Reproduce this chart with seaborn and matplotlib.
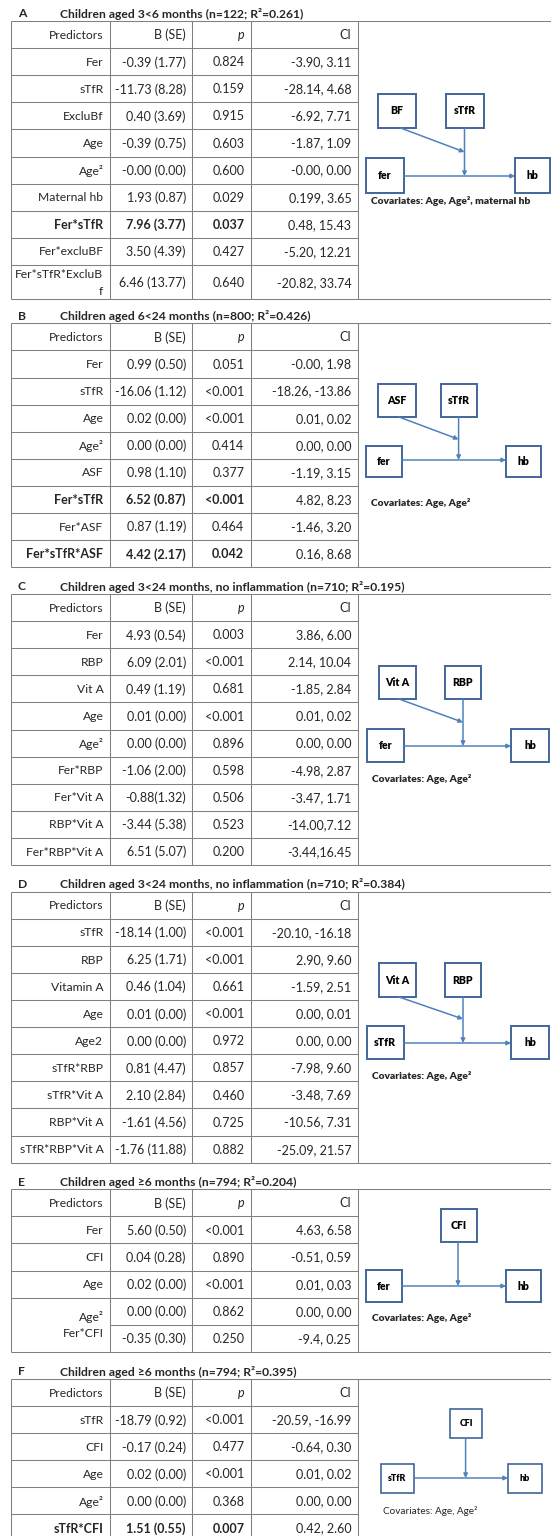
import matplotlib
matplotlib.use("Agg")
import matplotlib.pyplot as plt
import seaborn as sns

# ---------------------------------------------------------------- data
A_letter = "A"
A_title = "Children aged 3<6 months (n=122; R²=0.261)"
A_pred = ["Fer", "sTfR", "ExcluBf", "Age", "Age²", "Maternal hb", "Fer*sTfR",
          "Fer*excluBF", "Fer*sTfR*ExcluB\nf"]
A_b = ["-0.39 (1.77)", "-11.73 (8.28)", "0.40 (3.69)", "-0.39 (0.75)", "-0.00 (0.00)",
       "1.93 (0.87)", "7.96 (3.77)", "3.50 (4.39)", "6.46 (13.77)"]
A_p = ["0.824", "0.159", "0.915", "0.603", "0.600", "0.029", "0.037", "0.427", "0.640"]
A_ci = ["-3.90, 3.11", "-28.14, 4.68", "-6.92, 7.71", "-1.87, 1.09", "-0.00, 0.00",
        "0.199, 3.65", "0.48, 15.43", "-5.20, 12.21", "-20.82, 33.74"]
A_bold = [6]

B_letter = "B"
B_title = "Children aged 6<24 months (n=800; R²=0.426)"
B_pred = ["Fer", "sTfR", "Age", "Age²", "ASF", "Fer*sTfR", "Fer*ASF", "Fer*sTfR*ASF"]
B_b = ["0.99 (0.50)", "-16.06 (1.12)", "0.02 (0.00)", "0.00 (0.00)", "0.98 (1.10)",
       "6.52 (0.87)", "0.87 (1.19)", "4.42 (2.17)"]
B_p = ["0.051", "<0.001", "<0.001", "0.414", "0.377", "<0.001", "0.464", "0.042"]
B_ci = ["-0.00, 1.98", "-18.26, -13.86", "0.01, 0.02", "0.00, 0.00", "-1.19, 3.15",
        "4.82, 8.23", "-1.46, 3.20", "0.16, 8.68"]
B_bold = [5, 7]

C_letter = "C"
C_title = "Children aged 3<24 months, no inflammation (n=710; R²=0.195)"
C_pred = ["Fer", "RBP", "Vit A", "Age", "Age²", "Fer*RBP", "Fer*Vit A", "RBP*Vit A",
          "Fer*RBP*Vit A"]
C_b = ["4.93 (0.54)", "6.09 (2.01)", "0.49 (1.19)", "0.01 (0.00)", "0.00 (0.00)",
       "-1.06 (2.00)", "-0.88(1.32)", "-3.44 (5.38)", "6.51 (5.07)"]
C_p = ["0.003", "<0.001", "0.681", "<0.001", "0.896", "0.598", "0.506", "0.523", "0.200"]
C_ci = ["3.86, 6.00", "2.14, 10.04", "-1.85, 2.84", "0.01, 0.02", "0.00, 0.00",
        "-4.98, 2.87", "-3.47, 1.71", "-14.00,7.12", "-3.44,16.45"]
C_bold = []

D_letter = "D"
D_title = "Children aged 3<24 months, no inflammation (n=710; R²=0.384)"
D_pred = ["sTfR", "RBP", "Vitamin A", "Age", "Age2", "sTfR*RBP", "sTfR*Vit A",
          "RBP*Vit A", "sTfR*RBP*Vit A"]
D_b = ["-18.14 (1.00)", "6.25 (1.71)", "0.46 (1.04)", "0.01 (0.00)", "0.00 (0.00)",
       "0.81 (4.47)", "2.10 (2.84)", "-1.61 (4.56)", "-1.76 (11.88)"]
D_p = ["<0.001", "<0.001", "0.661", "<0.001", "0.972", "0.857", "0.460", "0.725", "0.882"]
D_ci = ["-20.10, -16.18", "2.90, 9.60", "-1.59, 2.51", "0.00, 0.01", "0.00, 0.00",
        "-7.98, 9.60", "-3.48, 7.69", "-10.56, 7.31", "-25.09, 21.57"]
D_bold = []

E_letter = "E"
E_title = "Children aged ≥6 months (n=794; R²=0.204)"
E_pred = ["Fer", "CFI", "Age", "Age²", "Fer*CFI"]
E_b = ["5.60 (0.50)", "0.04 (0.28)", "0.02 (0.00)", "0.00 (0.00)", "-0.35 (0.30)"]
E_p = ["<0.001", "0.890", "<0.001", "0.862", "0.250"]
E_ci = ["4.63, 6.58", "-0.51, 0.59", "0.01, 0.03", "0.00, 0.00", "-9.4, 0.25"]
E_bold = []

F_letter = "F"
F_title = "Children aged ≥6 months (n=794; R²=0.395)"
F_pred = ["sTfR", "CFI", "Age", "Age²", "sTfR*CFI"]
F_b = ["-18.79 (0.92)", "-0.17 (0.24)", "0.02 (0.00)", "0.00 (0.00)", "1.51 (0.55)"]
F_p = ["<0.001", "0.477", "<0.001", "0.368", "0.007"]
F_ci = ["-20.59, -16.99", "-0.64, 0.30", "0.01, 0.02", "0.00, 0.00", "0.42, 2.60"]
F_bold = [4]

header = ["Predictors", "B (SE)", "p", "CI"]

# ---------------------------------------------------------------- style
sns.set_theme(style="white")
plt.rcParams["font.family"] = ["Lato", "DejaVu Sans"]

W, H = 551, 1536
fig = plt.figure(figsize=(W / 100, H / 100), dpi=100)
ax = fig.add_axes([0, 0, 1, 1])
ax.set_xlim(0, W)
ax.set_ylim(H, 0)
ax.axis("off")

GRID = "#808080"
BOX = "#41669a"
ARROW = "#4f81bd"
FS = 9.0          # numeric cells
FS_LABEL = 8.75   # predictor names (regular weight)
TFS = 8.7
col_x = [10.5, 109.6, 192.2, 250.5, 357.7]
PAD = 6.2
RH = 27.1
LW = 0.75


def hline(y, x0, x1):
    ax.plot([x0, x1], [y, y], color=GRID, lw=LW, solid_capstyle="butt")


def vline(x, y0, y1):
    ax.plot([x, x], [y0, y1], color=GRID, lw=LW, solid_capstyle="butt")


def table(top, letter, title, pred, b, p, ci, bold, last_h=RH, merged_tail=False):
    ax.text(17.6, top - 7.3, letter, fontsize=TFS, fontweight="bold",
            ha="left", va="center")
    ax.text(59.7, top - 7.3, title, fontsize=TFS, fontweight="bold",
            ha="left", va="center")
    n = len(pred) + 1
    heights = [RH] * (n - 1) + [last_h]
    ys = [top]
    for h in heights:
        ys.append(ys[-1] + h)
    bottom = ys[-1]
    hline(top, col_x[0], W)
    hline(bottom, col_x[0], W)
    for i, y in enumerate(ys[1:-1], start=1):
        x0 = col_x[1] if (merged_tail and i == n - 1) else col_x[0]
        hline(y, x0, col_x[-1])
    for x in col_x:
        vline(x, top, bottom)
    rows = [header] + [[pred[i], b[i], p[i], ci[i]] for i in range(len(pred))]
    for r, cells in enumerate(rows):
        yc = (ys[r] + ys[r + 1]) / 2 + 0.6
        for c, txt in enumerate(cells):
            is_bold = (r - 1) in bold and c < 3
            weight = "bold" if is_bold else "normal"
            style = "italic" if (r == 0 and c == 2) else "normal"
            fs = FS_LABEL if (c == 0 and not is_bold) else FS
            xr = col_x[c + 1] - PAD
            if c == 0 and merged_tail and r >= n - 2:
                continue
            if "\n" in txt:
                first, second = txt.split("\n")
                ax.text(xr, yc - 8.0, first, fontsize=fs, ha="right", va="center",
                        fontweight=weight)
                ax.text(xr, yc + 8.6, second, fontsize=fs, ha="right", va="center",
                        fontweight=weight)
            else:
                ax.text(xr, yc, txt, fontsize=fs, ha="right", va="center",
                        fontweight=weight, fontstyle=style)
    if merged_tail:
        ym = (ys[n - 2] + ys[n]) / 2
        ax.text(col_x[1] - PAD, ym - 7.6, pred[-2], fontsize=FS_LABEL,
                ha="right", va="center")
        ax.text(col_x[1] - PAD, ym + 8.4, pred[-1], fontsize=FS_LABEL,
                ha="right", va="center")


def box(x0, x1, y0, y1, label, fs=7.6, lw=1.4):
    ax.add_patch(plt.Rectangle((x0, y0), x1 - x0, y1 - y0, fill=False,
                               edgecolor=BOX, lw=lw))
    ax.text((x0 + x1) / 2, (y0 + y1) / 2, label, fontsize=fs, fontweight="heavy",
            ha="center", va="center", color="black")


def arrow(x0, y0, x1, y1, lw=1.1):
    ax.annotate("", xy=(x1, y1), xytext=(x0, y0),
                arrowprops=dict(arrowstyle="-|>", color=ARROW, lw=lw,
                                mutation_scale=6, shrinkA=0, shrinkB=0))


def diagram(mod1, mod2, pred_box, hb_box, horiz_y, vert_x, diag, cov_xy, cov_txt,
            fs=7.6, cov_fs=7.4, cov_weight="heavy", lw=1.4):
    if mod1 is not None:
        box(*mod1, fs=fs, lw=lw)
    box(*mod2, fs=fs, lw=lw)
    box(*pred_box, fs=fs, lw=lw)
    box(*hb_box, fs=fs, lw=lw)
    arrow(pred_box[1], horiz_y, hb_box[0], horiz_y)
    arrow(vert_x, mod2[3], vert_x, horiz_y)
    if diag is not None:
        arrow(diag[0], diag[1], vert_x, diag[2])
    ax.text(cov_xy[0], cov_xy[1], cov_txt, fontsize=cov_fs, fontweight=cov_weight,
            ha="left", va="center")


# ---------------------------------------------------------------- panels
table(21.0, A_letter, A_title, A_pred, A_b, A_p, A_ci, A_bold, last_h=34.5)
diagram((377.8, 416.4, 94, 128, "BF"), (445.6, 483.9, 94, 128, "sTfR"),
        (366.0, 404.0, 158, 193, "fer"), (515.0, 550.0, 158, 193, "hb"),
        176, 464.5, (400.6, 128, 152), (370.7, 200.5),
        "Covariates: Age, Age², maternal hb")

table(323.3, B_letter, B_title, B_pred, B_b, B_p, B_ci, B_bold)
diagram((378.0, 416.0, 384, 417, "ASF"), (441.0, 477.0, 384, 417, "sTfR"),
        (366.0, 402.0, 446, 477, "fer"), (506.0, 541.0, 446, 477, "hb"),
        460, 458.6, (399.0, 417, 439.3), (371.0, 503.0),
        "Covariates: Age, Age²")

table(594.0, C_letter, C_title, C_pred, C_b, C_p, C_ci, C_bold)
diagram((379.0, 416.0, 666, 699, "Vit A"), (444.5, 481.0, 666, 699, "RBP"),
        (366.5, 404.0, 729, 762, "fer"), (511.0, 549.0, 729, 762, "hb"),
        746, 463.0, (399.0, 699, 722.3), (372.0, 779.0),
        "Covariates: Age, Age²")

table(891.7, D_letter, D_title, D_pred, D_b, D_p, D_ci, D_bold)
diagram((379.0, 416.0, 963, 997, "Vit A"), (444.5, 481.0, 963, 997, "RBP"),
        (366.5, 404.0, 1026, 1059, "sTfR"), (511.0, 549.0, 1026, 1059, "hb"),
        1043, 463.0, (399.0, 997, 1019), (372.0, 1076.0),
        "Covariates: Age, Age²")

table(1189.3, E_letter, E_title, E_pred, E_b, E_p, E_ci, E_bold, merged_tail=True)
diagram(None, (441.0, 477.0, 1209, 1242, "CFI"),
        (366.0, 402.0, 1270, 1302, "fer"), (506.0, 541.0, 1270, 1302, "hb"),
        1286, 458.0, None, (372.0, 1318.0),
        "Covariates: Age, Age²")

table(1379.0, F_letter, F_title, F_pred, F_b, F_p, F_ci, F_bold)
diagram(None, (450.0, 482.0, 1409, 1438, "CFI"),
        (380.6, 413.6, 1464, 1493, "sTfR"), (508.0, 542.0, 1464, 1493, "hb"),
        1478, 465.6, None, (383.0, 1511.0),
        "Covariates: Age, Age²", fs=6.4, cov_fs=7.2, cov_weight="normal", lw=1.2)

fig.savefig("out.png", dpi=100, facecolor="white")
